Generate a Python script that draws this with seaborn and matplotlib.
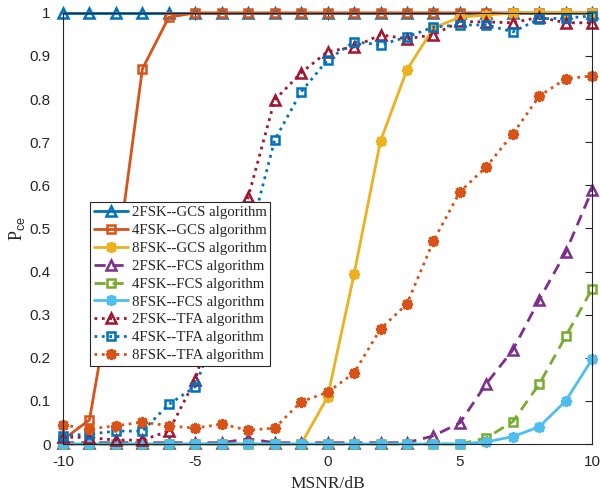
import numpy as np
import pandas as pd
import matplotlib
matplotlib.use("Agg")
import matplotlib.pyplot as plt
import seaborn as sns

snr = list(range(-10, 11))

gcs_2fsk = [1.0] * 21
gcs_4fsk = [0.01, 0.056, 0.41, 0.87, 0.99, 1.0, 1.0, 1.0, 1.0, 1.0, 1.0,
            1.0, 1.0, 1.0, 1.0, 1.0, 1.0, 1.0, 1.0, 1.0, 1.0]
gcs_8fsk = [0.0, 0.0, 0.0, 0.0, 0.0, 0.0, 0.0, 0.0, 0.0, 0.0, 0.109,
            0.394, 0.703, 0.868, 0.965, 0.99, 0.995, 1.0, 1.0, 1.0, 1.0]
fcs_2fsk = [0.003, 0.003, 0.003, 0.003, 0.003, 0.003, 0.003, 0.012, 0.003, 0.003, 0.003,
            0.003, 0.003, 0.003, 0.019, 0.049, 0.14, 0.218, 0.335, 0.445, 0.59]
fcs_4fsk = [0.0, 0.0, 0.0, 0.0, 0.0, 0.0, 0.0, 0.0, 0.0, 0.0, 0.0,
            0.0, 0.0, 0.0, 0.0, 0.0, 0.014, 0.052, 0.139, 0.25, 0.36]
fcs_8fsk = [0.0, 0.0, 0.0, 0.0, 0.0, 0.0, 0.0, 0.0, 0.0, 0.0, 0.0,
            0.0, 0.0, 0.0, 0.0, 0.0, 0.005, 0.017, 0.04, 0.10, 0.197]
tfa_2fsk = [0.016, 0.015, 0.009, 0.009, 0.03, 0.149, 0.36, 0.573, 0.798, 0.861, 0.91,
            0.921, 0.949, 0.94, 0.949, 0.98, 0.979, 0.977, 0.99, 0.977, 0.977]
tfa_4fsk = [0.019, 0.023, 0.03, 0.03, 0.092, 0.133, 0.30, 0.47, 0.705, 0.817, 0.891,
            0.933, 0.926, 0.944, 0.967, 0.972, 0.972, 0.956, 0.986, 0.988, 0.993]
tfa_8fsk = [0.044, 0.035, 0.042, 0.051, 0.042, 0.037, 0.046, 0.032, 0.037, 0.098, 0.12,
            0.165, 0.267, 0.325, 0.471, 0.585, 0.643, 0.719, 0.807, 0.847, 0.854]

labels = ["2FSK--GCS algorithm", "4FSK--GCS algorithm", "8FSK--GCS algorithm",
          "2FSK--FCS algorithm", "4FSK--FCS algorithm", "8FSK--FCS algorithm",
          "2FSK--TFA algorithm", "4FSK--TFA algorithm", "8FSK--TFA algorithm"]
series = [gcs_2fsk, gcs_4fsk, gcs_8fsk, fcs_2fsk, fcs_4fsk, fcs_8fsk,
          tfa_2fsk, tfa_4fsk, tfa_8fsk]

sns.set_theme(style="white")
plt.rcParams["font.family"] = ["Liberation Sans", "DejaVu Sans"]
plt.rcParams["mathtext.fontset"] = "custom"
plt.rcParams["mathtext.rm"] = "Liberation Sans"
plt.rcParams["axes.unicode_minus"] = False

colors = ["#0072BD", "#D95319", "#EDB120", "#7E2F8E", "#77AC30", "#4DBEEE",
          "#A2142F", "#0072BD", "#D95319"]
styles = ["-", "-", "-", (0, (4, 2.5)), (0, (4, 2.5)), "-", ":", ":", ":"]
ast = (8, 2, 0)
markers = ["^", "s", ast, "^", "s", ast, "^", "s", ast]
msizes = [7.5, 6, 8, 7.5, 6, 8, 7.5, 6, 8]

fig = plt.figure(figsize=(6.0, 4.95), dpi=100)
ax = fig.add_axes([0.105, 0.103, 0.882, 0.871])

for y, lab, c, ls, m, ms in zip(series, labels, colors, styles, markers, msizes):
    df = pd.DataFrame({"x": snr, "y": y})
    is_ast = not isinstance(m, str)
    sns.lineplot(data=df, x="x", y="y", ax=ax, color=c, linestyle=ls, linewidth=2,
                 marker=m, markersize=ms,
                 markerfacecolor=(c if is_ast else "none"),
                 markeredgecolor=c, markeredgewidth=(2.2 if is_ast else 1.8),
                 label=lab, clip_on=False)

ax.set_xlim(-10, 10)
ax.set_ylim(0, 1)
ax.set_xticks([-10, -5, 0, 5, 10])
ax.set_yticks(np.round(np.arange(0, 1.01, 0.1), 1))
ax.set_yticklabels(["0", "0.1", "0.2", "0.3", "0.4", "0.5", "0.6", "0.7", "0.8", "0.9", "1"])
ax.tick_params(direction="in", length=5, width=0.8, top=True, right=True,
               labelsize=11, colors="#262626")
ax.tick_params(axis="x", pad=8)
ax.tick_params(axis="y", pad=9)
for s in ax.spines.values():
    s.set_color("#262626")
    s.set_linewidth(0.8)
    s.set_visible(True)

ax.set_xlabel("MSNR/dB", family=["Liberation Serif"], fontsize=12.5, color="#262626", labelpad=5)
ax.set_ylabel(r"P$_{\mathrm{ce}}$", family=["Liberation Serif"], fontsize=13, color="#262626", labelpad=2)

leg = ax.legend(loc="upper left", bbox_to_anchor=(0.051, 0.561), borderaxespad=0,
                prop={"family": "Liberation Serif", "size": 10.7}, frameon=True,
                fancybox=False, framealpha=1, edgecolor="#262626",
                handlelength=2.3, handletextpad=0.25, labelspacing=0.3,
                borderpad=0.25)
leg.get_frame().set_linewidth(0.8)

fig.savefig("out.png", dpi=100)
